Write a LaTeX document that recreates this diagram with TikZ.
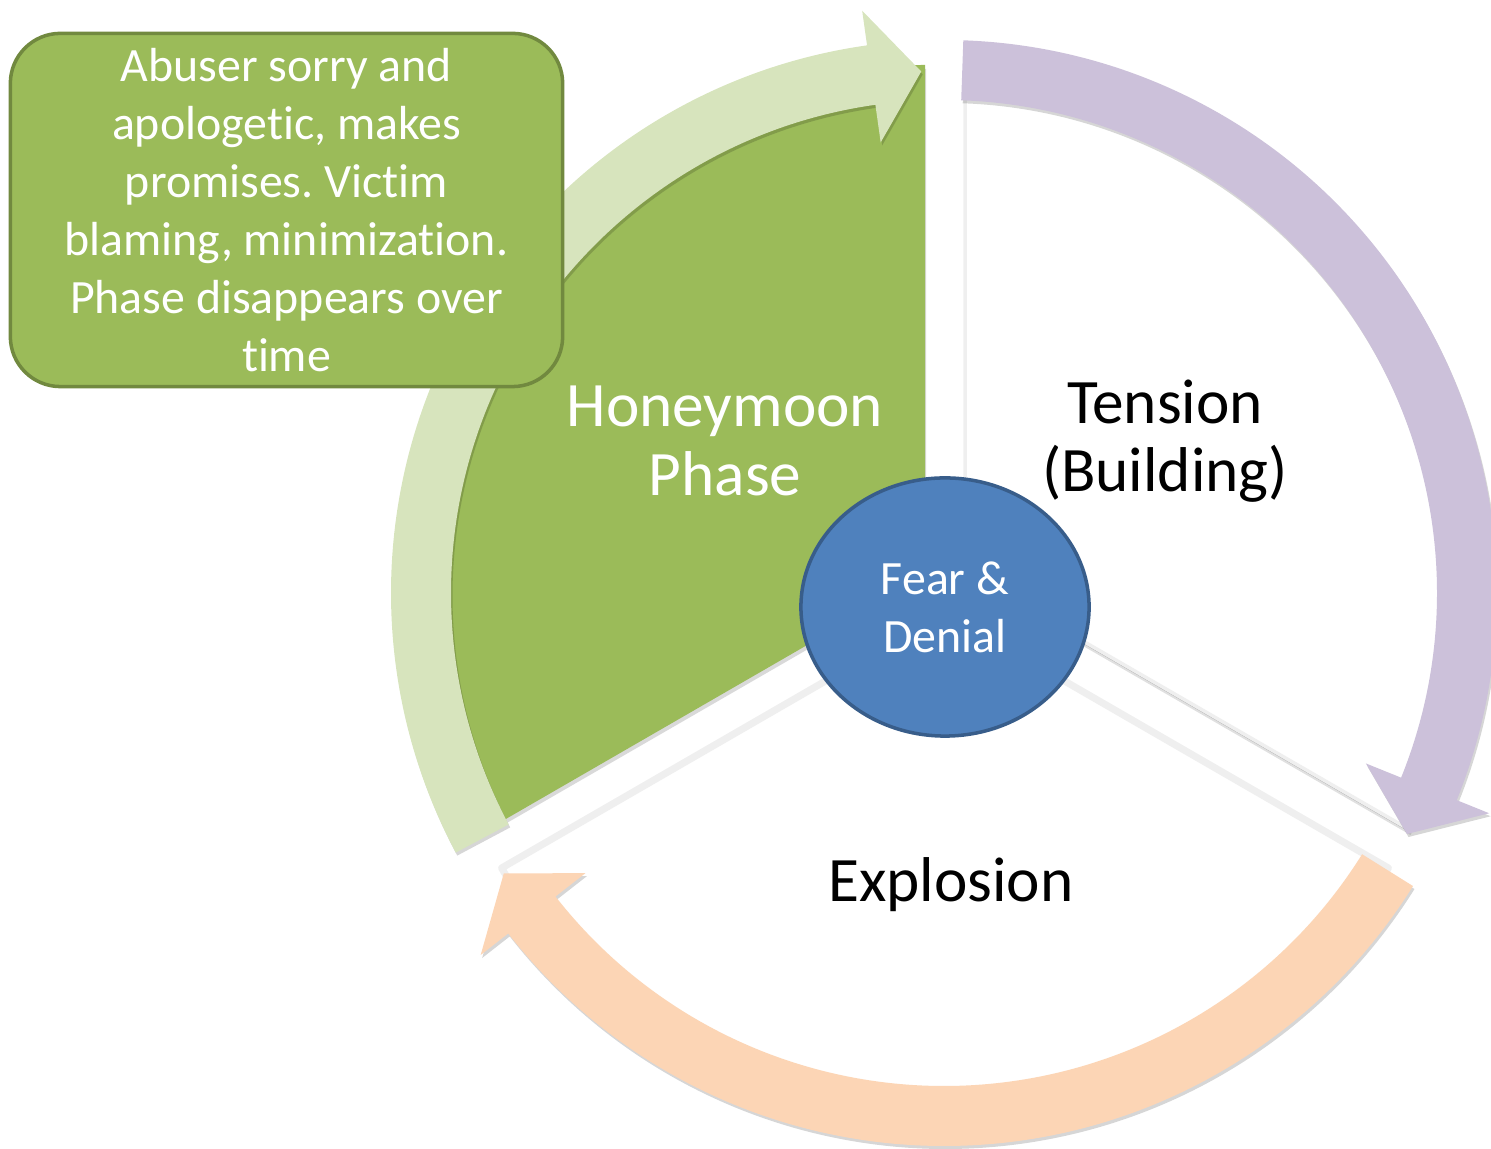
\documentclass[tikz,border=0pt]{standalone}
\usepackage{fontspec}
\setmainfont{Carlito}[Ligatures=NoCommon]
\usetikzlibrary{shapes.geometric}
\definecolor{hgreen}{HTML}{9BBB59}
\definecolor{hgreendark}{HTML}{71893F}
\definecolor{lgreen}{HTML}{D7E4BD}
\definecolor{lpurple}{HTML}{CCC1DA}
\definecolor{lorange}{HTML}{FCD5B5}
\definecolor{coreblue}{HTML}{4F81BD}
\definecolor{coreblueedge}{HTML}{385D8A}
\definecolor{sectoredge}{HTML}{EFEFEF}
% circular arrow: #1 start angle, #2 style
\newcommand{\cyclearrow}[2]{%
  \fill[#2] (#1:553) arc[start angle=#1, delta angle=-110, radius=553]
    -- ({#1-110}:588) -- ({#1-115.5}:522) -- ({#1-110}:455) -- ({#1-110}:493)
    arc[start angle={#1-110}, delta angle=110, radius=493] -- cycle;}
\frenchspacing
\begin{document}
\begin{tikzpicture}[x=0.01cm,y=0.01cm,
  bigtext/.style={font=\fontsize{18}{19.5}\selectfont, align=center, inner sep=0pt},
  smalltext/.style={font=\fontsize{13.6}{16.5}\selectfont, align=center, inner sep=0pt, text=white},
  arrowshadow/.style={black, opacity=0.16}]
\useasboundingbox (0,0) rectangle (1491,1149);
% ---- sectors ----
% explosion
\filldraw[fill=white, draw=sectoredge, line width=2pt, line join=round]
  (945,537) -- ++(210:512) arc[start angle=210, end angle=330, radius=512] -- cycle;
% tension (with shadow)
\fill[black, opacity=0.12] (967,570) -- ++(90:512) arc[start angle=90, end angle=-30, radius=512] -- cycle;
\fill[black, opacity=0.22] (966,573) -- ++(90:512) arc[start angle=90, end angle=-30, radius=512] -- cycle;
\filldraw[fill=white, draw=sectoredge, line width=1pt, line join=round]
  (965,576) -- (965,1088) arc[start angle=90, end angle=-30, radius=512] -- cycle;
% honeymoon (green)
\fill[black, opacity=0.15] (926,568) -- (926,1080) arc[start angle=90, end angle=210, radius=512] -- cycle;
\fill[hgreen] (925,572) -- (925,1084) arc[start angle=90, end angle=210, radius=512] -- cycle;
% ---- arrows ----
\begin{scope}[shift={(945.5,553)}]
  \cyclearrow{88}{arrowshadow}
  \cyclearrow{-32}{arrowshadow}
  \cyclearrow{208}{arrowshadow}
\end{scope}
\begin{scope}[shift={(944,556)}]
  \cyclearrow{88}{lpurple}
  \cyclearrow{-32}{lorange}
  \cyclearrow{208}{lgreen}
\end{scope}
% ---- labels ----
\node[bigtext, text=white] (honey) at (725,708) {Honeymoon\\Phase};
\node[bigtext, text=black] (tension) at (1165,708) {Tension\\(Building)};
\node[bigtext, text=black] (explosion) at (951,264) {Explosion};
% ---- core ----
\node[ellipse, fill=coreblue, draw=coreblueedge, line width=1pt,
      minimum width=2.88cm, minimum height=2.58cm, inner sep=0pt,
      smalltext] (core) at (945,542) {Fear \&\\Denial};
% ---- description box ----
\node[rectangle, rounded corners=0.5cm, fill=hgreen, draw=hgreendark, line width=1pt,
      minimum width=5.52cm, minimum height=3.53cm, smalltext] (note) at (286.5,939)
  {Abuser sorry and\\apologetic, makes\\promises. Victim\\blaming, minimization.\\Phase disappears over\\time};
\end{tikzpicture}
\end{document}
